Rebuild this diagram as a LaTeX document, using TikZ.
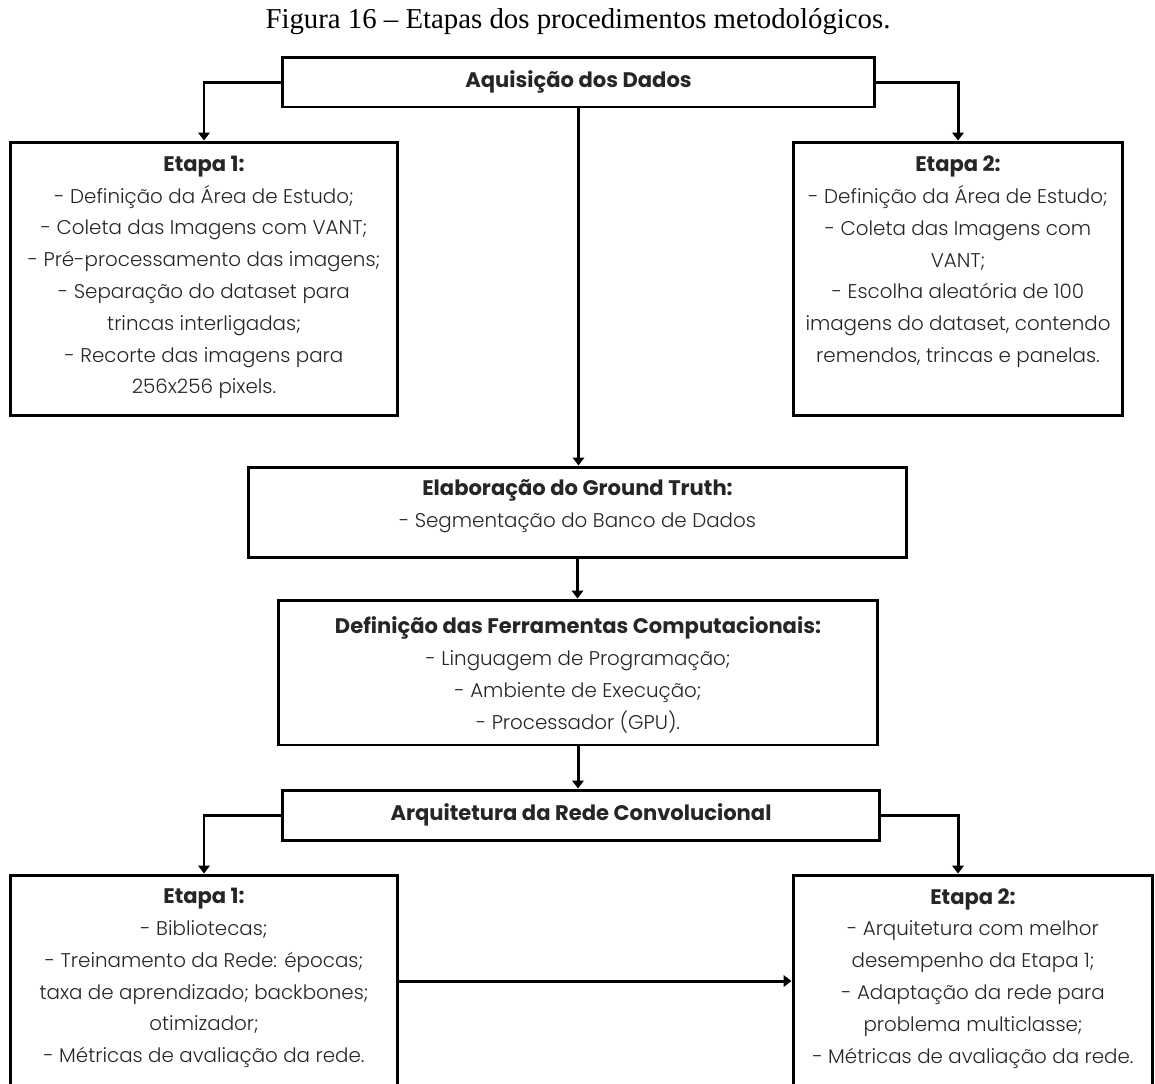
\documentclass[tikz,border=0pt]{standalone}
\usepackage{fontspec}
\setmainfont{Poppins}[UprightFont=* Light, BoldFont=* Bold]
\newfontfamily\capfont{Liberation Serif}
\usetikzlibrary{arrows.meta,positioning,calc}
\definecolor{Ink}{HTML}{262626}
\newcommand{\hd}[1]{{\fontsize{12}{18.1}\selectfont\bfseries #1}}
\tikzset{
  arr/.style={-{Triangle[length=1.6mm,width=2.3mm]},line width=1.7pt,draw=black},
  boxstyle/.style={draw=black,line width=1.7pt,fill=white,inner sep=0pt},
  txtstyle/.style={anchor=north,align=center,inner sep=0pt,text=Ink,font=\fontsize{11.3}{18.1}\selectfont}
}

\begin{document}
\begin{tikzpicture}[x=0.02cm,y=-0.02cm]
  \useasboundingbox (0,0) rectangle (1155,1083);
  \clip (0,0) rectangle (1155,1083);
  \node[font=\capfont\fontsize{16.4}{18}\selectfont] (cap) at (578,22) {Figura 16 – Etapas dos procedimentos metodológicos.};
  % first level
  \node[boxstyle,minimum width=11.86cm,minimum height=1cm,text=Ink] (acq) at (578.5,82) {\hd{Aquisição dos Dados}};
  \node[boxstyle,minimum width=7.76cm,minimum height=5.48cm] (e1a) at (204,279) {};
  \node[boxstyle,minimum width=6.6cm,minimum height=5.48cm] (e2a) at (958,279) {};
  \node[txtstyle,below=0.3cm of e1a.north] (e1at) {\hd{Etapa 1:}\\- Definição da Área de Estudo;\\- Coleta das Imagens com VANT;\\- Pré-processamento das imagens;\\- Separação do dataset para\\trincas interligadas;\\- Recorte das imagens para\\256x256 pixels.};
  \node[txtstyle,below=0.3cm of e2a.north] (e2at) {\hd{Etapa 2:}\\- Definição da Área de Estudo;\\- Coleta das Imagens com\\VANT;\\- Escolha aleatória de 100\\imagens do dataset, contendo\\remendos, trincas e panelas.};
  % middle column
  \node[boxstyle,minimum width=13.18cm,minimum height=1.8cm] (gt) at (577.5,512) {};
  \node[txtstyle,below=0.28cm of gt.north] (gtt) {\hd{Elaboração do Ground Truth:}\\- Segmentação do Banco de Dados};
  \node[boxstyle,minimum width=12cm,minimum height=2.9cm] (fer) at (578,672.5) {};
  \node[txtstyle,below=0.36cm of fer.north] (fert) {\hd{Definição das Ferramentas Computacionais:}\\- Linguagem de Programação;\\- Ambiente de Execução;\\- Processador (GPU).};
  \node[boxstyle,minimum width=11.96cm,minimum height=1cm,text=Ink] (arq) at (581,815) {\hd{Arquitetura da Rede Convolucional}};
  % second level
  \node[boxstyle,minimum width=7.76cm,minimum height=4.24cm] (e1b) at (204,981) {};
  \node[boxstyle,minimum width=7.2cm,minimum height=4.24cm] (e2b) at (973,981) {};
  \node[txtstyle,below=0.29cm of e1b.north] (e1bt) {\hd{Etapa 1:}\\- Bibliotecas;\\- Treinamento da Rede: épocas;\\taxa de aprendizado; backbones;\\otimizador;\\- Métricas de avaliação da rede.};
  \node[txtstyle,below=0.29cm of e2b.north] (e2bt) {\hd{Etapa 2:}\\- Arquitetura com melhor\\desempenho da Etapa 1;\\- Adaptação da rede para\\problema multiclasse;\\- Métricas de avaliação da rede.};
  % connectors
  \draw[arr] (acq.west) -| (e1a.north);
  \draw[arr] (acq.east) -| (e2a.north);
  \draw[arr] (acq.south) -- (acq.south |- gt.north);
  \draw[arr] (gt.south) -- (gt.south |- fer.north);
  \draw[arr] (fer.south) -- (fer.south |- arq.north);
  \draw[arr] (arq.west) -| (e1b.north);
  \draw[arr] (arq.east) -| (e2a.north |- e2b.north);
  \draw[arr] (e1b.east) -- (e1b.east -| e2b.west);
\end{tikzpicture}
\end{document}
